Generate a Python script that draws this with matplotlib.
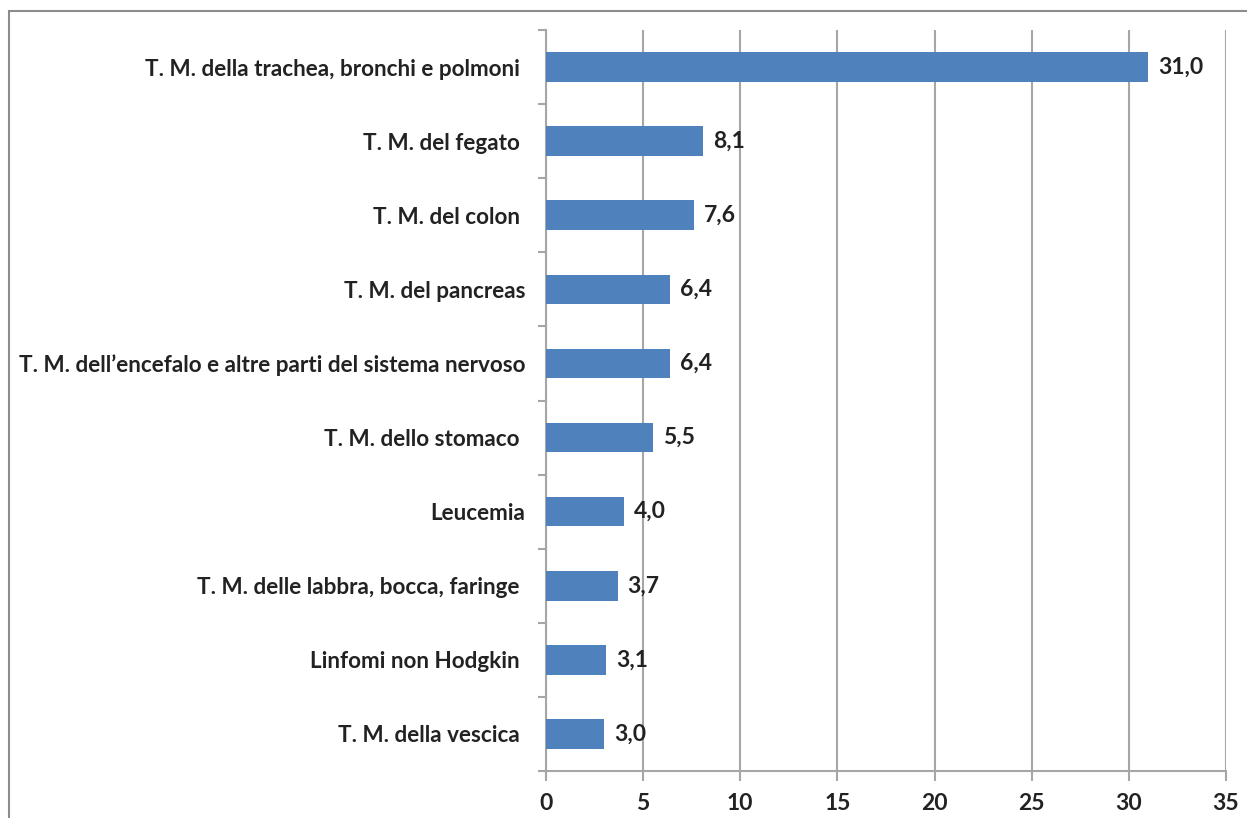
import matplotlib
matplotlib.use("Agg")
import matplotlib.pyplot as plt
from matplotlib.patches import Rectangle
from matplotlib.ticker import FixedLocator

categories = [
    "T. M. della trachea, bronchi e polmoni ",
    "T. M. del fegato ",
    "T. M. del colon ",
    "T. M. del pancreas",
    "T. M. dell\u2019encefalo e altre parti del sistema nervoso",
    "T. M. dello stomaco ",
    "Leucemia",
    "T. M. delle labbra, bocca, faringe ",
    "Linfomi non Hodgkin ",
    "T. M. della vescica ",
]
values = [31.0, 8.1, 7.6, 6.4, 6.4, 5.5, 4.0, 3.7, 3.1, 3.0]
xticks = [0, 5, 10, 15, 20, 25, 30, 35]

plt.rcParams['font.family'] = ['Lato', 'DejaVu Sans']
W, H = 1247, 818
fig = plt.figure(figsize=(W / 100, H / 100), dpi=100)
ax = fig.add_axes([546 / W, 47 / H, 680 / W, 741 / H])

n = len(categories)
pos = list(range(n))
ax.barh(pos, values, height=0.4, color="#4F81BD", zorder=3)
ax.set_ylim(n - 0.5, -0.5)
ax.set_xlim(0, 35)

grid_c = "#A6A6A6"
txt_c = "#222222"
ax.set_xticks(xticks)
ax.set_xticklabels([str(t) for t in xticks], fontsize=16.5, fontweight="bold", color=txt_c)
ax.xaxis.grid(True, color=grid_c, linewidth=1.5, zorder=0)

ax.yaxis.set_major_locator(FixedLocator([i - 0.5 for i in range(n + 1)]))
ax.yaxis.set_minor_locator(FixedLocator(pos))
ax.set_yticklabels([], minor=False)
ax.set_yticklabels(categories, minor=True, fontsize=16.2, fontweight="bold", color=txt_c)
ax.tick_params(axis="y", which="major", length=6, width=1.5, color=grid_c, direction="out")
ax.tick_params(axis="y", which="minor", length=0, pad=15)
ax.tick_params(axis="x", which="major", length=7, width=1.5, color=grid_c, direction="out", pad=9)

for s in ["top", "right"]:
    ax.spines[s].set_visible(False)
for s in ["left", "bottom"]:
    ax.spines[s].set_color(grid_c)
    ax.spines[s].set_linewidth(1.5)

for p, v in zip(pos, values):
    ax.annotate(f"{v:.1f}".replace(".", ","), xy=(v, p), xytext=(7, 0), textcoords="offset points",
                va="center", ha="left", fontsize=16.5, fontweight="bold", color=txt_c)

fig.patches.append(Rectangle((9 / W, -0.1), 1.2, (H - 11) / H + 0.1, transform=fig.transFigure,
                             fill=False, edgecolor="#8C8C8C", linewidth=1.5))

fig.savefig("out.png", dpi=100)
